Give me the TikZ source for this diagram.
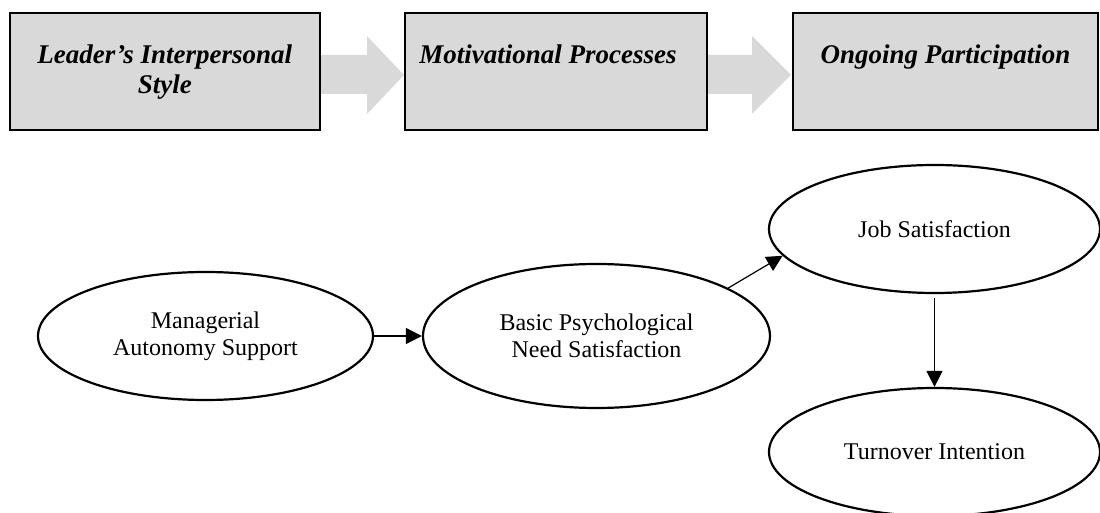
\documentclass[tikz,border=0pt]{standalone}
\usepackage{fontspec}
\setmainfont{Liberation Serif}
\usetikzlibrary{positioning,shapes.geometric,arrows.meta}

\tikzset{
  stagebox/.style={draw, line width=1pt, fill={rgb,255:red,217;green,217;blue,217}, inner sep=0pt, minimum height=58.5pt},
  stagetext/.style={font=\fontsize{13.5}{15}\selectfont\bfseries\itshape, align=center, inner sep=0pt},
  blockarrow/.style={fill={rgb,255:red,217;green,217;blue,217}},
  construct/.style={draw, ellipse, line width=1.1pt, inner sep=0pt, align=center, font=\fontsize{12}{13.5}\selectfont},
  link/.style={-{Triangle[length=8pt,width=8pt]}, line width=0.6pt}
}

\begin{document}
\begin{tikzpicture}[x=0.5pt,y=-0.5pt]
    \useasboundingbox (0,0) rectangle (1100,513);
    %Right Arrow
    \fill[blockarrow] (320,55) -- (367,55) -- (367,36) -- (404,75) -- (367,114) -- (367,94) -- (320,94) -- cycle;
    %Right Arrow
    \fill[blockarrow] (707,55) -- (752,55) -- (752,36) -- (791,75) -- (752,114) -- (752,94) -- (707,94) -- cycle;
    %Shape: Rectangle
    \node[stagebox, minimum width=155.25pt] (lstyle) at (164.75,71.5) {};
    \node[stagebox, minimum width=151pt] (motiv) at (556,71.5) {};
    \node[stagebox, minimum width=152.5pt] (partic) at (945.5,71.5) {};
    % Text Node
    \node[stagetext, below=16pt of lstyle.north] (lstyletxt) {Leader’s Interpersonal\\Style};
    % Text Node
    \node[stagetext, below=16pt of motiv.north, xshift=-4pt] (motivtxt) {Motivational Processes};
    % Text Node
    \node[stagetext, below=16pt of partic.north] (partictxt) {Ongoing Participation};

    %Shape: Ellipse
    \node[construct, minimum width=167.5pt, minimum height=64pt] (autsup) at (205.5,336) {Managerial\\Autonomy Support};
    \node[construct, minimum width=173.5pt, minimum height=72pt] (needsat) at (596.5,336) {Basic Psychological\\Need Satisfaction};
    \node[construct, minimum width=165.5pt, minimum height=64pt] (jobsat) at (934.5,229) {Job Satisfaction};
    \node[construct, minimum width=165.5pt, minimum height=64pt] (turnover) at (934.5,452) {Turnover Intention};
    %Straight Lines
    \draw[link] (autsup.east) -- (needsat.west);
    \draw[link] (needsat.20) -- (jobsat.190);
    \draw[link] ([yshift=-2pt]jobsat.south) -- (turnover.north);
\end{tikzpicture}
\end{document}
